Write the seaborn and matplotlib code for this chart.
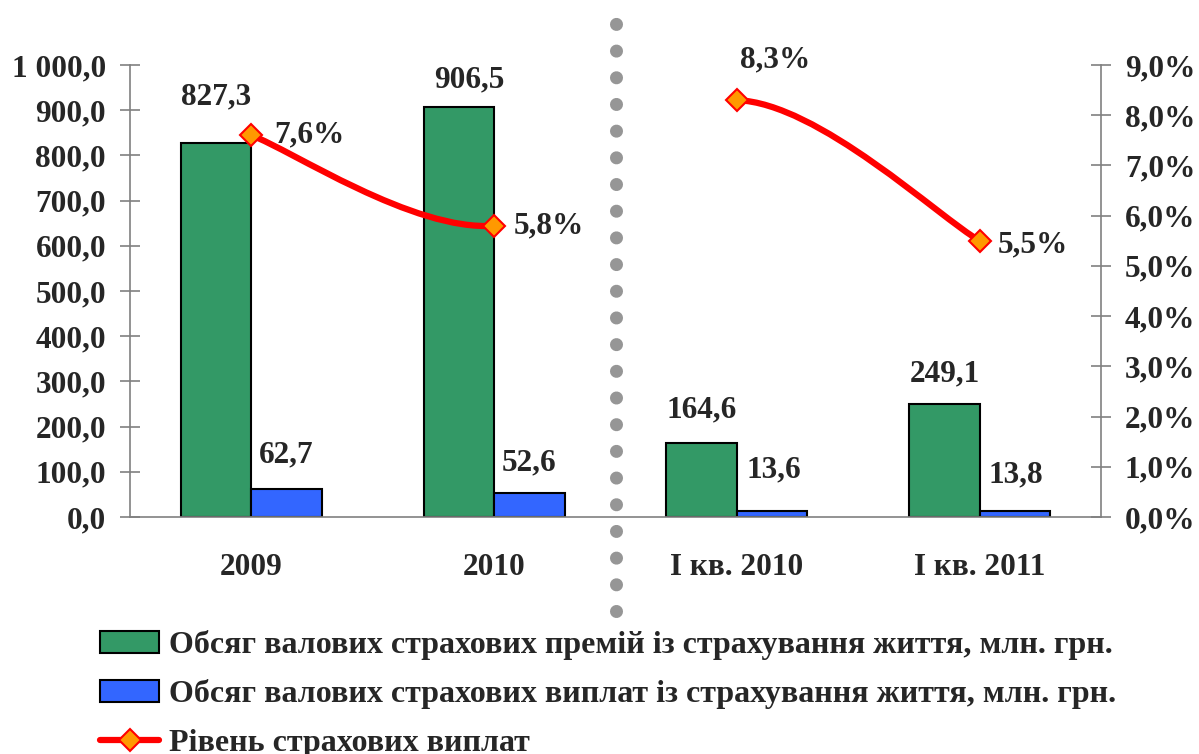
import numpy as np
import pandas as pd
import matplotlib
matplotlib.use("Agg")
import matplotlib.pyplot as plt
import seaborn as sns
from matplotlib.path import Path
from matplotlib.patches import PathPatch, Patch
from matplotlib.lines import Line2D

# ---- data ----
periods = ["2009", "2010", "І кв. 2010", "І кв. 2011"]
premiums = [827.3, 906.5, 164.6, 249.1]
payouts = [62.7, 52.6, 13.6, 13.8]
payout_rate = [7.6, 5.8, 8.3, 5.5]          # %
rate_segments = [(0, 1), (2, 3)]            # line drawn only inside each group

lbl_prem = "Обсяг валових страхових премій із страхування життя, млн. грн."
lbl_pay = "Обсяг валових страхових виплат із страхування життя, млн. грн."
lbl_rate = "Рівень страхових виплат"

GREEN, BLUE = "#339966", "#3366FF"
RED, ORANGE = "#FF0000", "#FF9900"
AXC = "#808080"

sns.set_style("white")
plt.rcParams["font.family"] = ["Liberation Serif", "DejaVu Serif"]
plt.rcParams["font.weight"] = "bold"
FS = 22.5

df = pd.DataFrame({
    "period": periods * 2,
    "value": premiums + payouts,
    "series": [lbl_prem] * 4 + [lbl_pay] * 4,
})

fig = plt.figure(figsize=(11.99, 7.54), dpi=100)
ax = fig.add_axes([130 / 1199, 1 - 517 / 754, 971 / 1199, 452 / 754])

sns.barplot(data=df, x="period", y="value", hue="series", order=periods,
            palette=[GREEN, BLUE], saturation=1, width=0.58, edgecolor="black",
            linewidth=1.5, legend=False, ax=ax)
ax.set_xlim(-0.5, 3.5)
ax.set_ylim(0, 1000)
ax.set_xlabel(""); ax.set_ylabel("")

# value labels on bars (offsets in pixels)
prem_off = [(0, 46), (10, 27), (0, 33), (0, 31)]
pay_off = [(0, 34), (0, 30), (2, 41), (1, 36)]
for i, (v, o) in enumerate(zip(premiums, prem_off)):
    ax.annotate(f"{v:.1f}".replace(".", ","), xy=(i - 0.145, v), xytext=o,
                textcoords="offset pixels", ha="center", va="center",
                fontsize=FS, fontweight="bold")
for i, (v, o) in enumerate(zip(payouts, pay_off)):
    ax.annotate(f"{v:.1f}".replace(".", ","), xy=(i + 0.145, v), xytext=o,
                textcoords="offset pixels", ha="center", va="center",
                fontsize=FS, fontweight="bold")

# axes styling
for s in ["top", "right"]:
    ax.spines[s].set_visible(False)
for s in ["left", "bottom"]:
    ax.spines[s].set_color(AXC); ax.spines[s].set_linewidth(1.2)
ax.set_yticks(np.arange(0, 1001, 100))
ax.set_yticklabels([f"{v:,.1f}".replace(",", " ").replace(".", ",") for v in np.arange(0, 1001, 100)])
ax.tick_params(axis="y", direction="inout", length=14.4, width=1.2, color=AXC,
               pad=10, labelsize=FS)
ax.set_xticks(range(4))
ax.set_xticklabels(periods)
ax.tick_params(axis="x", length=0, pad=26, labelsize=FS)
ax.set_xticks(np.arange(-0.5, 4, 1), minor=True)
ax.tick_params(axis="x", which="minor", direction="out", length=7.2, width=1.2, color=AXC)
for t in ax.get_xticklabels() + ax.get_yticklabels():
    t.set_fontweight("bold")

# secondary axis: payout rate
ax2 = ax.twinx()
ax2.set_ylim(0, 9)
ax2.set_xlim(-0.5, 3.5)
for s in ["top", "left", "bottom"]:
    ax2.spines[s].set_visible(False)
ax2.spines["right"].set_color(AXC); ax2.spines["right"].set_linewidth(1.2)
ax2.set_yticks(np.arange(0, 10, 1))
ax2.set_yticklabels([f"{v:.1f}%".replace(".", ",") for v in np.arange(0, 10, 1)])
ax2.tick_params(axis="y", direction="inout", length=14.4, width=1.2, color=AXC,
                pad=10, labelsize=FS)
for t in ax2.get_yticklabels():
    t.set_fontweight("bold")

# smoothed (Catmull-Rom style) line segments
pts = np.column_stack([np.arange(len(payout_rate)), payout_rate]).astype(float)
n = len(pts)
for a, b in rate_segments:
    p_prev = pts[max(a - 1, 0)]
    p_next = pts[min(b + 1, n - 1)]
    c1 = pts[a] + (pts[b] - p_prev) / 6
    c2 = pts[b] - (p_next - pts[a]) / 6
    path = Path([pts[a], c1, c2, pts[b]],
                [Path.MOVETO, Path.CURVE4, Path.CURVE4, Path.CURVE4])
    ax2.add_patch(PathPatch(path, fill=False, edgecolor=RED, lw=4.5,
                            capstyle="round", joinstyle="round", zorder=3))
ax2.plot(range(n), payout_rate, linestyle="none", marker="D", ms=11.5,
         mfc=ORANGE, mec=RED, mew=1.5, zorder=4)

rate_off = [(23, 0), (20, 0), (3, 40), (18, -4)]
for i, (v, o) in enumerate(zip(payout_rate, rate_off)):
    ax2.annotate(f"{v:.1f}%".replace(".", ","), xy=(i, v), xytext=o,
                 textcoords="offset pixels", ha="left", va="center",
                 fontsize=FS, fontweight="bold")

# dotted separator between yearly and quarterly groups
ax.axvline(1.5, ymin=-0.208, ymax=1.095, clip_on=False, color="#969696",
           lw=9.4, linestyle=(0, (0.001, 2.043)), dash_capstyle="round", zorder=5)

# legend
handles = [
    Patch(facecolor=GREEN, edgecolor="black", linewidth=1.5),
    Patch(facecolor=BLUE, edgecolor="black", linewidth=1.5),
    Line2D([], [], color=RED, lw=4.5, marker="D", ms=11.5, mfc=ORANGE, mec=RED, mew=1.5),
]
fig.legend(handles, [lbl_prem, lbl_pay, lbl_rate], loc="upper left",
           bbox_to_anchor=(100 / 1199, 1 - 630 / 754), frameon=False,
           prop={"size": 23, "weight": "bold"}, handlelength=1.85, handleheight=0.7,
           handletextpad=0.3, labelspacing=0.6, borderpad=0, borderaxespad=0)

fig.savefig("out.png", dpi=100)
